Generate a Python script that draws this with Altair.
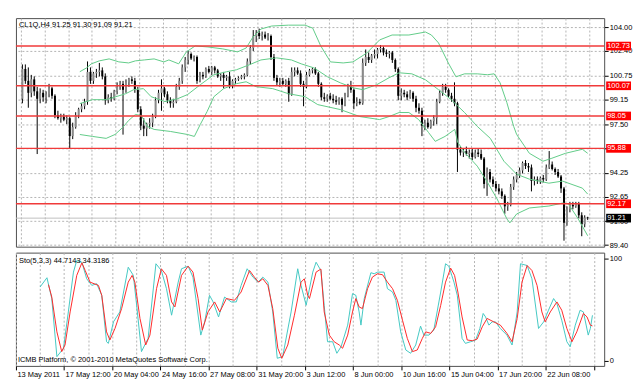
import json
import altair as alt
import pandas as pd

# ---------------- data ----------------
OPEN = [99.2, 101.2, 100.4, 99.6, 100.5, 99.7, 99.2, 99.6, 99.3, 99.5,
        99.9, 99.4, 98.1, 97.9, 98.0, 97.8, 97.9, 96.7, 97.3, 98.1,
        98.5, 98.7, 99.0, 101.0, 100.4, 100.9, 101.0, 101.1, 100.7, 99.1,
        99.3, 99.2, 99.7, 100.0, 100.2, 99.8, 100.3, 100.5, 100.4, 99.8,
        98.5, 97.4, 97.2, 97.5, 97.6, 98.0, 99.1, 99.6, 99.9, 99.5,
        99.1, 98.9, 99.0, 100.0, 100.4, 101.3, 101.8, 102.2, 101.9, 102.0,
        100.4, 100.8, 100.7, 101.2, 101.0, 101.3, 101.1, 100.7, 100.8, 100.6,
        100.7, 100.1, 100.4, 100.5, 100.6, 100.7, 100.8, 101.7, 102.6, 103.4,
        103.6, 103.4, 103.5, 103.3, 103.4, 102.0, 100.6, 100.3, 100.4, 100.2,
        100.4, 99.5, 101.0, 101.1, 100.9, 100.2, 100.0, 100.8, 101.1, 101.2,
        100.9, 100.2, 99.3, 99.2, 99.4, 99.2, 99.1, 99.0, 99.2, 98.8,
        99.4, 100.0, 99.8, 98.9, 99.0, 98.9, 101.6, 102.0, 101.8, 102.1,
        102.2, 102.5, 102.6, 102.3, 102.2, 102.3, 101.8, 101.2, 99.4, 99.6,
        99.5, 99.3, 99.6, 99.2, 98.6, 98.4, 97.4, 97.6, 97.3, 97.7,
        97.9, 99.0, 99.6, 100.0, 99.8, 99.4, 99.2, 98.9, 95.8, 95.6,
        95.7, 95.5, 95.6, 95.3, 95.6, 95.5, 95.2, 93.5, 94.3, 93.8,
        93.5, 93.2, 93.0, 92.7, 92.0, 92.1, 93.3, 93.8, 94.1, 94.4,
        94.9, 94.7, 94.6, 93.7, 93.8, 93.7, 93.9, 93.8, 94.6, 94.8,
        94.5, 94.3, 94.0, 93.2, 90.9, 91.8, 92.1, 92.0, 92.2, 91.4,
        90.8, 91.25]
HIGH = [101.5, 101.5, 101.3, 100.8, 100.7, 100.0, 99.9, 99.8, 99.7, 100.2,
        100.0, 99.5, 98.4, 98.2, 98.2, 98.1, 98.0, 97.6, 98.3, 98.6,
        98.9, 99.2, 101.7, 101.3, 101.0, 101.2, 101.6, 101.3, 100.9, 99.5,
        99.6, 99.8, 100.3, 100.4, 100.4, 100.5, 100.6, 100.7, 100.6, 100.0,
        98.7, 97.9, 97.6, 97.9, 98.2, 99.3, 99.8, 100.5, 100.0, 99.7,
        99.3, 99.2, 100.2, 100.6, 101.5, 102.0, 102.4, 102.3, 102.1, 102.1,
        101.0, 101.0, 101.3, 101.4, 101.4, 101.4, 101.2, 100.9, 101.0, 100.8,
        101.0, 100.5, 100.6, 100.7, 100.8, 100.9, 101.9, 102.8, 103.8, 103.8,
        103.9, 103.7, 103.7, 103.6, 103.5, 102.2, 100.8, 100.6, 100.6, 100.5,
        100.6, 101.3, 101.3, 101.3, 101.1, 100.4, 101.0, 101.2, 101.3, 101.3,
        101.0, 100.3, 99.6, 99.5, 99.6, 99.5, 99.4, 99.3, 99.3, 99.6,
        100.2, 100.4, 99.9, 99.3, 99.2, 101.9, 102.5, 102.3, 102.2, 102.5,
        102.6, 102.8, 102.7, 102.5, 102.4, 102.4, 101.9, 101.3, 99.9, 99.8,
        99.7, 99.8, 99.7, 99.4, 98.9, 98.6, 97.8, 97.9, 97.8, 98.1,
        99.2, 99.8, 100.2, 100.2, 99.9, 99.6, 100.3, 99.0, 96.0, 95.9,
        96.0, 95.8, 95.9, 95.8, 95.9, 95.8, 95.3, 94.6, 94.5, 94.0,
        93.7, 93.5, 93.2, 92.8, 92.3, 93.5, 94.0, 94.3, 94.6, 95.0,
        95.1, 94.9, 94.8, 94.0, 94.0, 94.0, 94.1, 94.8, 95.7, 95.0,
        94.6, 94.5, 94.1, 93.3, 92.0, 92.3, 92.3, 92.3, 92.3, 91.6,
        91.4, 91.30]
LOW = [98.9, 100.2, 98.6, 99.3, 99.4, 95.5, 98.9, 99.0, 98.9, 99.3,
       99.2, 97.9, 97.8, 97.6, 97.7, 97.5, 95.9, 96.5, 97.2, 97.9,
       98.3, 98.5, 98.8, 100.2, 100.2, 100.6, 100.7, 100.5, 98.8, 98.9,
       99.0, 99.1, 99.5, 99.8, 96.8, 99.6, 100.0, 100.2, 99.6, 98.3,
       97.1, 96.7, 96.7, 97.2, 97.3, 97.9, 98.9, 98.4, 99.3, 98.9,
       98.6, 98.6, 98.9, 99.8, 100.2, 101.0, 101.5, 101.8, 101.7, 100.2,
       100.3, 100.5, 100.6, 100.9, 100.8, 100.9, 100.6, 100.4, 99.9, 100.4,
       99.9, 99.9, 100.2, 100.4, 100.5, 100.5, 100.7, 101.5, 102.4, 103.0,
       103.2, 103.1, 103.2, 103.1, 101.8, 100.4, 100.1, 100.0, 100.1, 100.0,
       99.0, 99.4, 100.7, 100.8, 100.0, 98.7, 99.9, 100.7, 100.9, 100.8,
       100.0, 99.1, 99.0, 99.0, 99.1, 98.9, 98.8, 98.8, 98.3, 98.7,
       99.3, 99.6, 98.5, 98.7, 98.8, 98.8, 101.4, 101.6, 101.6, 101.9,
       101.9, 102.3, 102.1, 102.0, 101.9, 101.6, 101.0, 99.1, 99.1, 99.3,
       99.1, 99.2, 99.0, 98.3, 98.2, 96.7, 97.1, 97.2, 97.2, 97.4,
       97.5, 98.9, 99.4, 99.6, 99.3, 99.0, 98.7, 94.3, 95.4, 95.3,
       95.4, 95.2, 95.1, 95.2, 95.3, 95.1, 93.2, 92.7, 93.6, 93.3,
       93.0, 92.8, 92.5, 91.5, 91.7, 92.0, 93.1, 93.6, 93.9, 94.2,
       94.5, 94.3, 93.0, 93.4, 93.5, 93.5, 93.6, 93.7, 94.5, 94.4,
       94.1, 93.9, 92.9, 89.7, 90.7, 91.6, 91.8, 91.9, 91.2, 90.0,
       90.6, 91.09]
CLOSE = [101.2, 100.4, 99.6, 100.5, 99.7, 99.2, 99.6, 99.3, 99.5, 99.9,
         99.4, 98.1, 97.9, 98.0, 97.8, 97.9, 96.7, 97.3, 98.1, 98.5,
         98.7, 99.0, 101.0, 100.4, 100.9, 101.0, 101.1, 100.7, 99.1, 99.3,
         99.2, 99.7, 100.0, 100.2, 99.8, 100.3, 100.5, 100.4, 99.8, 98.5,
         97.4, 97.2, 97.5, 97.6, 98.0, 99.1, 99.6, 99.9, 99.5, 99.1,
         98.9, 99.0, 100.0, 100.4, 101.3, 101.8, 102.2, 101.9, 102.0, 100.4,
         100.8, 100.7, 101.2, 101.0, 101.3, 101.1, 100.7, 100.8, 100.6, 100.7,
         100.1, 100.4, 100.5, 100.6, 100.7, 100.8, 101.7, 102.6, 103.4, 103.6,
         103.4, 103.5, 103.3, 103.4, 102.0, 100.6, 100.3, 100.4, 100.2, 100.4,
         99.5, 101.0, 101.1, 100.9, 100.2, 100.0, 100.8, 101.1, 101.2, 100.9,
         100.2, 99.3, 99.2, 99.4, 99.2, 99.1, 99.0, 99.2, 98.8, 99.4,
         100.0, 99.8, 98.9, 99.0, 98.9, 101.6, 102.0, 101.8, 102.1, 102.2,
         102.5, 102.6, 102.3, 102.2, 102.3, 101.8, 101.2, 99.4, 99.6, 99.5,
         99.3, 99.6, 99.2, 98.6, 98.4, 97.4, 97.6, 97.3, 97.7, 97.9,
         99.0, 99.6, 100.0, 99.8, 99.4, 99.2, 98.9, 95.8, 95.6, 95.7,
         95.5, 95.6, 95.3, 95.6, 95.5, 95.2, 93.5, 94.3, 93.8, 93.5,
         93.2, 93.0, 92.7, 92.0, 92.1, 93.3, 93.8, 94.1, 94.4, 94.9,
         94.7, 94.6, 93.7, 93.8, 93.7, 93.9, 93.8, 94.6, 94.8, 94.5,
         94.3, 94.0, 93.2, 90.9, 91.8, 92.1, 92.0, 92.2, 91.4, 90.8,
         91.25, 91.21]

UPPER_BAR = [19.4, 21.7, 23.3, 26.0, 29.3, 32.6, 35.9, 38.2, 41.2, 44.5, 47.8, 49.5, 52.8,
             55.4, 58.4, 62.7, 67.7, 72.7, 75.6, 77.9, 80.6, 84.2, 89.9, 95.5, 98.1, 100.8,
             104.1, 108.4, 111.7, 116.4, 120.7, 124.9, 130.6, 136.2, 138.2, 140.6, 143.9,
             146.5, 149.4, 153.7, 157.1, 159.4, 161.4, 163.7, 166.0, 167.0, 171.3, 175.9,
             178.9, 183.5, 189.2, 191.0]
UPPER = [101.01, 101.27, 101.54, 101.74, 101.87, 101.67, 101.60, 101.74, 101.80, 101.87, 101.67,
         101.80, 101.54, 102.34, 102.74, 102.67, 102.54, 102.34, 102.60, 103.33, 103.87, 104.07,
         104.13, 104.13, 103.93, 102.74, 101.67, 101.60, 101.67, 102.27, 103.14, 103.47, 103.47,
         103.67, 103.47, 102.94, 101.60, 100.67, 100.87, 100.87, 100.81, 100.87, 100.27, 98.94,
         97.35, 96.81, 95.55, 95.02, 95.22, 95.55, 95.82, 95.55]
MIDDLE_BAR = [19.4, 23.7, 28.3, 31.6, 34.9, 37.6, 40.9, 43.5, 48.2, 52.5, 55.8, 60.1, 64.7,
              69.0, 72.3, 76.6, 80.6, 85.9, 90.9, 94.2, 98.5, 103.1, 107.4, 111.7, 115.0,
              119.7, 123.9, 127.3, 131.6, 136.2, 140.6, 144.9, 149.4, 153.7, 158.1, 162.7,
              167.0, 171.3, 177.9, 182.5, 189.2, 191.0]
MIDDLE = [98.88, 99.14, 99.14, 99.34, 99.54, 99.81, 99.88, 99.34, 99.01, 99.21, 99.48, 100.14,
          100.81, 101.01, 101.14, 101.47, 101.80, 101.94, 101.80, 101.54, 101.27, 100.67, 100.27,
          99.94, 99.81, 100.14, 100.61, 100.94, 100.87, 100.47, 99.81, 99.14, 98.28, 97.35,
          96.55, 95.02, 94.15, 93.82, 93.55, 93.69, 93.22, 92.82]
LOWER_BAR = [19.4, 23.7, 28.3, 31.3, 33.9, 35.9, 38.2, 40.2, 42.2, 44.5, 50.1, 55.8, 58.1,
             60.1, 62.4, 64.7, 68.0, 72.3, 75.6, 78.9, 84.6, 89.9, 95.5, 99.8, 107.4, 114.0,
             120.7, 123.9, 127.3, 130.6, 133.9, 137.2, 139.5, 142.8, 146.1, 147.1, 149.4,
             153.7, 157.1, 160.4, 163.7, 164.7, 167.0, 171.3, 177.9, 182.5, 184.5, 187.8, 191.0]
LOWER = [96.81, 96.68, 96.55, 96.81, 97.28, 97.75, 98.15, 98.08, 97.35, 97.15, 97.01, 96.81,
         96.68, 97.48, 98.34, 99.34, 99.88, 100.21, 100.34, 100.01, 99.88, 99.54, 99.34, 98.81,
         98.48, 98.01, 97.81, 98.01, 98.28, 98.28, 97.81, 96.95, 96.35, 96.68, 97.15, 96.28,
         95.62, 94.69, 93.62, 92.49, 91.16, 90.89, 91.49, 91.89, 92.02, 92.22, 92.16, 91.16, 90.03]

K_BAR = [7.5, 9.8, 11.4, 13.1, 15.3, 16.9, 18.6, 19.7, 21.4, 23.0, 24.7, 26.3, 28.0, 29.6, 30.2,
         31.9, 34.0, 36.8, 38.5, 39.6, 41.2, 43.4, 46.0, 47.8, 49.5, 51.2, 53.4, 54.5, 56.7,
         58.3, 60.9, 62.2, 63.8, 65.0, 66.8, 68.8, 71.0, 72.7, 74.3, 76.3, 78.2, 79.9, 81.5,
         83.2, 84.8, 86.3, 88.1, 90.9, 93.1, 94.2, 95.9, 98.1, 99.2, 100.8, 101.9, 103.0,
         104.7, 106.1, 107.5, 109.7, 111.3, 112.4, 113.5, 114.1, 115.2, 117.4, 118.5, 119.6,
         121.8, 122.9, 124.6, 125.7, 127.3, 129.0, 130.6, 132.3, 133.9, 135.0, 136.7, 138.3,
         140.6, 142.2, 143.3, 145.0, 146.1, 147.7, 148.8, 150.5, 152.2, 153.6, 154.7, 155.5,
         156.6, 157.7, 158.8, 160.4, 162.6, 164.3, 166.0, 167.1, 169.3, 170.9, 173.1, 174.8,
         176.4, 178.1, 179.2, 180.8, 182.5, 183.6, 185.3, 186.9, 188.0, 189.6, 190.3, 191.0]
K_VAL = [72.4, 81.5, 61.1, 4.2, 12.4, 48.0, 87.0, 98.4, 96.7, 80.5, 74.0, 75.7, 64.3, 18.8, 17.2,
         38.3, 48.0, 91.8, 83.8, 54.5, 9.1, 22.1, 95.2, 88.6, 70.8, 44.8, 77.2, 90.3, 92.8,
         82.1, 25.3, 38.3, 64.3, 57.8, 43.1, 62.6, 57.8, 57.8, 74.0, 90.3, 82.1, 77.2, 82.1,
         77.2, 48.0, 2.6, 4.2, 48.0, 90.3, 74.0, 54.5, 87.0, 96.7, 88.6, 54.5, 18.8,
         18.8, 7.5, 13.9, 35.1, 65.9, 64.3, 48.0, 35.1, 61.1, 86.4, 85.4, 87.0,
         87.0, 70.8, 67.5, 59.4, 28.5, 10.7, 7.5, 15.6, 34.1, 25.3, 25.3, 30.2,
         67.5, 95.2, 92.8, 77.2, 64.3, 22.1, 17.2, 18.8, 20.5, 31.8, 46.5, 43.1,
         35.1, 38.3, 38.3, 31.8, 25.3, 15.6, 48.0, 95.2, 93.5, 80.5, 31.8, 38.3,
         49.7, 61.1, 56.2, 39.9, 18.8, 13.9, 35.1, 49.7, 48.0, 25.3, 31.8, 44.7]
D_BAR = [10.3, 11.4, 13.1, 14.7, 15.8, 17.5, 19.7, 21.4, 22.5, 24.1, 26.9, 28.0, 29.6, 30.7,
         32.4, 34.6, 36.8, 38.1, 39.0, 40.7, 42.6, 44.0, 46.2, 47.8, 49.5, 51.2, 52.3, 54.5,
         56.7, 58.3, 60.0, 61.4, 63.3, 65.5, 67.2, 69.4, 72.1, 74.3, 77.1, 78.7, 80.1, 81.5,
         83.2, 84.8, 86.5, 87.8, 89.8, 92.0, 94.2, 95.3, 96.4, 97.0, 99.2, 100.8, 101.9,
         103.6, 105.2, 106.9, 108.0, 109.7, 111.3, 112.4, 113.5, 114.6, 116.3, 117.9, 119.6,
         121.3, 122.9, 124.6, 126.2, 127.9, 129.5, 131.2, 132.8, 134.5, 135.6, 137.3, 138.9,
         140.6, 142.2, 143.9, 145.2, 146.3, 147.7, 149.4, 151.1, 152.7, 154.4, 156.0, 158.2,
         160.4, 162.6, 164.3, 166.0, 167.6, 169.3, 170.9, 172.6, 174.2, 175.3, 177.0, 179.2,
         180.8, 182.5, 184.2, 185.8, 188.0, 189.2, 190.3, 191.0]
D_VAL = [74.7, 62.6, 28.5, 9.1, 15.6, 48.0, 83.8, 96.1, 88.6, 77.2, 74.0, 64.3, 28.5, 20.5,
         31.8, 51.3, 77.2, 83.8, 77.2, 41.6, 15.6, 25.3, 70.8, 90.3, 83.8, 57.8, 52.9, 83.8,
         92.8, 87.0, 61.1, 30.2, 48.0, 57.8, 48.0, 61.1, 59.4, 67.5, 88.6, 82.1, 77.2, 80.5,
         74.0, 51.3, 12.4, 2.6, 15.6, 44.8, 77.2, 80.5, 64.3, 61.1, 87.0, 90.0, 48.0,
         25.3, 18.8, 15.6, 12.4, 25.3, 48.0, 61.1, 52.9, 51.3, 70.8, 82.1, 85.4,
         84.4, 77.2, 70.8, 59.4, 39.9, 22.1, 9.1, 10.7, 22.1, 28.5, 27.0, 33.4,
         54.5, 77.2, 90.9, 83.8, 67.5, 43.1, 20.5, 19.8, 21.4, 33.4, 41.6, 38.3,
         35.1, 27.0, 18.8, 41.6, 77.2, 93.5, 88.6, 74.0, 48.0, 38.3, 48.0, 57.8,
         49.7, 31.8, 18.8, 28.5, 46.5, 43.1, 35.1, 34.3]

LEVELS = [102.73, 100.07, 98.05, 95.88, 92.17]
LAST_PRICE = [91.21]
PRICE_TICKS = [104.00, 102.40, 100.75, 99.15, 97.50, 95.90, 94.25, 92.65, 91.00, 89.40]
HIDDEN_TICK = 95.90   # its label sits fully under the 95.88 marker in the reference
STO_TICKS = [0, 100]
X_LABELS = ["13 May 2011", "17 May 12:00", "20 May 04:00", "24 May 16:00", "27 May 08:00",
            "31 May 20:00", "3 Jun 12:00", "8 Jun 00:00", "10 Jun 16:00", "15 Jun 04:00",
            "17 Jun 20:00", "22 Jun 08:00"]
HEADER = "CL1Q,H4  91.25 91.30 91.09 91.21"
STO_HEADER = "Sto(5,3,3) 44.7143 34.3186"
COPYRIGHT = "ICMB Platform, \u00a9 2001-2010 MetaQuotes Software Corp."

# ---------------- layout / style ----------------
W, H_MAIN, H_STO = 592, 230, 114
FONT = "Liberation Sans"
FS = 7.5
GRID_COLOR = "#b4b4b4"
BB_COLOR = "#62cc88"
LEVEL_COLOR = "#f03a3a"
GRID_X = [-0.5 + 8 * k for k in range(25)]

xs = alt.Scale(domain=[-0.5, 194.9], nice=False, zero=False)
ys_main = alt.Scale(domain=[89.30, 104.60], nice=False, zero=False)
ys_sto = alt.Scale(domain=[-4.87, 106.1], nice=False, zero=False)

x_axis_main = alt.Axis(values=GRID_X, grid=True, gridColor=GRID_COLOR, gridDash=[2, 2],
                       labels=False, ticks=False, domain=False, title=None)
is_label = "round(datum.value + 0.5) % 16 == 0"
label_expr = (f"({is_label}) ? {json.dumps(X_LABELS)}[round((datum.value + 0.5) / 16)] : ''")
x_axis_sto = alt.Axis(values=GRID_X, grid=True, gridColor=GRID_COLOR, gridDash=[2, 2],
                      labelExpr=label_expr, labelAlign="left", labelBaseline="top",
                      labelPadding=1, labelOffset=1, labelFont=FONT, labelFontSize=FS,
                      labelColor="#000", labelFlush=False, labelOverlap=False,
                      tickSize=4, tickColor="#000",
                      tickOpacity={"condition": {"test": is_label, "value": 1}, "value": 0},
                      domain=False, title=None)
y_label_expr = (f"abs(datum.value - {HIDDEN_TICK}) < 0.001 ? '' : format(datum.value, '.2f')")
y_axis_main = alt.Axis(orient="right", values=PRICE_TICKS, labelExpr=y_label_expr, grid=True,
                       gridColor=GRID_COLOR, gridDash=[2, 2], tickSize=4, tickColor="#000",
                       labelFont=FONT, labelFontSize=FS, labelColor="#000", labelPadding=1,
                       labelOverlap=False, domain=False, title=None)
y_axis_sto = alt.Axis(orient="right", values=STO_TICKS, format="d", grid=False, tickSize=4,
                      tickColor="#000", labelFont=FONT, labelFontSize=FS, labelColor="#000",
                      labelPadding=1, domain=False, title=None)


def XM(f="bar"):
    return alt.X(f"{f}:Q", scale=xs, axis=x_axis_main)


def YM(f):
    return alt.Y(f"{f}:Q", scale=ys_main, axis=y_axis_main)


def XS(f="bar"):
    return alt.X(f"{f}:Q", scale=xs, axis=x_axis_sto)


def YS(f):
    return alt.Y(f"{f}:Q", scale=ys_sto, axis=y_axis_sto)


N = len(CLOSE)
candles = pd.DataFrame({"bar": list(range(N)), "open": OPEN, "high": HIGH,
                        "low": LOW, "close": CLOSE})
bands = pd.concat([
    pd.DataFrame({"bar": UPPER_BAR, "price": UPPER, "band": "upper"}),
    pd.DataFrame({"bar": MIDDLE_BAR, "price": MIDDLE, "band": "middle"}),
    pd.DataFrame({"bar": LOWER_BAR, "price": LOWER, "band": "lower"}),
])
levels = pd.DataFrame({"level": LEVELS})
last = pd.DataFrame({"level": LAST_PRICE})
k_df = pd.DataFrame({"bar": K_BAR, "v": K_VAL})
d_df = pd.DataFrame({"bar": D_BAR, "v": D_VAL})

body_color = alt.condition("datum.close >= datum.open", alt.value("#8a8a8a"), alt.value("#000000"))

last_line = alt.Chart(last).mark_rule(color="#c0c0c0", strokeWidth=1).encode(y=YM("level"))
wicks = alt.Chart(candles).mark_rule(color="#000000", strokeWidth=1).encode(
    x=XM(), y=YM("low"), y2="high:Q")
bodies = alt.Chart(candles).mark_bar(size=2).encode(
    x=XM(), y=YM("open"), y2="close:Q", color=body_color)
bb = alt.Chart(bands).mark_line(color=BB_COLOR, strokeWidth=1).encode(
    x=XM(), y=YM("price"), detail="band:N")
level_lines = alt.Chart(levels).mark_rule(color=LEVEL_COLOR, strokeWidth=1.5).encode(y=YM("level"))

box_calc = dict(lo="datum.level - 0.29", hi="datum.level + 0.29")
level_boxes = alt.Chart(levels).transform_calculate(**box_calc).mark_rect(color="#ff0000").encode(
    y=YM("lo"), y2="hi:Q", x=alt.value(W + 2), x2=alt.value(W + 27))
level_text = alt.Chart(levels).mark_text(
    align="left", baseline="middle", font=FONT, fontSize=FS, color="#ffffff").encode(
    y=YM("level"), x=alt.value(W + 3), text=alt.Text("level:Q", format=".2f"))
last_box = alt.Chart(last).transform_calculate(**box_calc).mark_rect(color="#000000").encode(
    y=YM("lo"), y2="hi:Q", x=alt.value(W + 2), x2=alt.value(W + 27))
last_text = alt.Chart(last).mark_text(
    align="left", baseline="middle", font=FONT, fontSize=FS, color="#ffffff").encode(
    y=YM("level"), x=alt.value(W + 3), text=alt.Text("level:Q", format=".2f"))
header = alt.Chart(pd.DataFrame({"t": [HEADER]})).mark_text(
    align="left", baseline="middle", font=FONT, fontSize=FS, color="#000").encode(
    x=alt.value(3), y=alt.value(7), text="t:N")

main = alt.layer(last_line, wicks, bodies, bb, level_lines, level_boxes, level_text,
                 last_box, last_text, header).properties(width=W, height=H_MAIN)

k_line = alt.Chart(k_df).mark_line(color="#45c9c4", strokeWidth=1).encode(x=XS(), y=YS("v"))
d_line = alt.Chart(d_df).mark_line(color="#ff2a2a", strokeWidth=1).encode(x=XS(), y=YS("v"))
sto_head = alt.Chart(pd.DataFrame({"t": [STO_HEADER]})).mark_text(
    align="left", baseline="middle", font=FONT, fontSize=FS, color="#000").encode(
    x=alt.value(3), y=alt.value(8), text="t:N")
copy_txt = alt.Chart(pd.DataFrame({"t": [COPYRIGHT]})).mark_text(
    align="left", baseline="middle", font=FONT, fontSize=FS, color="#000").encode(
    x=alt.value(2), y=alt.value(108), text="t:N")

sto = alt.layer(k_line, d_line, sto_head, copy_txt).properties(width=W, height=H_STO)

chart = alt.vconcat(main, sto, spacing=2).properties(
    padding={"left": 6, "top": 8, "right": 0, "bottom": 0},
    background="#ffffff",
).configure_view(stroke="#505050", strokeWidth=1)

chart.save("out.html", embed_options={"renderer": "svg", "actions": False})
